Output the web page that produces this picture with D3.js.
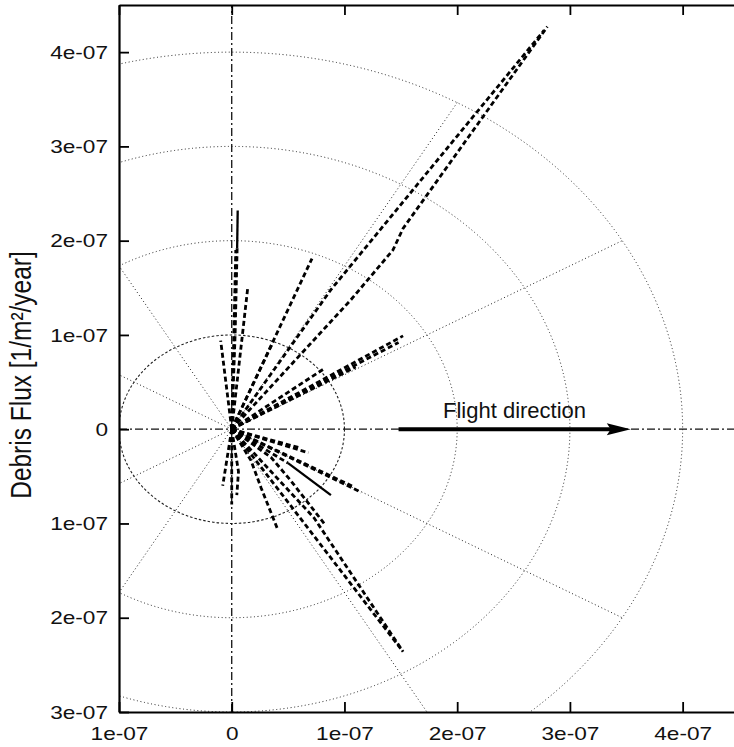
<!DOCTYPE html>
<html>
<head>
<meta charset="utf-8">
<script src="https://cdn.jsdelivr.net/npm/d3@7"></script>
<style>
  html, body { margin: 0; padding: 0; background: #fff; }
  svg { display: block; }
  text { font-family: "Liberation Sans", Arial, Helvetica, sans-serif; fill: #111; }
</style>
</head>
<body>
<div id="chart"></div>
<script>
// ---------------- data (units of 1e-07) ----------------
const UNIT = 1e-7;
const xTicks = [-1, 0, 1, 2, 3, 4];
const yTicks = [-3, -2, -1, 0, 1, 2, 3, 4];
const gridRadii = [1, 2, 3, 4];
const gridAngles = [30, 60, 120, 150, 210, 240, 300, 330];

// flux polylines, upper half (dashed)
const upperRays = [
  [[0, 0], [0.03, 1.0], [0.048, 1.92]],
  [[0, 0], [0.036, 1.90]],
  [[0, 0], [0.142, 1.50]],
  [[0, 0], [-0.098, 0.94]],
  [[0, 0], [0.712, 1.81]],
  [[0, 0], [0.365, 0.92]],
  [[0, 0], [0.83, 0.65]],
  [[0, 0], [1.10, 0.66]],
  [[0, 0], [1.52, 0.99]],
  [[0, 0], [1.48, 0.92]],
  [[0, 0], [0.88, 1.48], [2.77, 4.23]],
  [[0, 0], [1.055, 1.37], [1.43, 1.90], [1.52, 2.13], [2.80, 4.27]]
];
// flux polylines, lower half (dashed)
const lowerRays = [
  [[0, 0], [0.68, -0.25]],
  [[0, 0], [0.61, -0.20]],
  [[0, 0], [1.15, -0.67]],
  [[0, 0], [1.08, -0.61]],
  [[0, 0], [0.50, -0.36]],
  [[0, 0], [0.35, -0.30], [0.52, -0.54], [0.82, -1.00]],
  [[0, 0], [0.17, -0.33], [0.26, -0.62], [0.41, -1.07]],
  [[0, 0], [0.73, -0.94], [1.52, -2.36]],
  [[0, 0], [0.40, -0.62], [1.50, -2.33]],
  [[0, 0], [-0.08, -0.60]],
  [[0, 0], [0.06, -0.45], [0.045, -0.70]],
  [[0, 0], [0.0, -0.80]]
];
// parts of flux lines drawn solid
const solidRays = [
  [[0.048, 1.92], [0.053, 2.32]],
  [[0.50, -0.36], [0.88, -0.70]]
];
const flightArrow = [1.48, 3.54];
const flightLabel = "Flight direction";
const yLabel = "Debris Flux [1/m²/year]";

// ---------------- layout ----------------
const W = 734, H = 747;
const STRETCH = 1.19;
const x = d3.scaleLinear().domain([-1 * UNIT, 4.5 * UNIT]).range([119, 739]);
const y = d3.scaleLinear().domain([-3 * UNIT, 4.5 * UNIT]).range([712, 5]);
const fmt = d => d === 0 ? "0" : Math.round(Math.abs(d / UNIT)) + "e-07";

const svg = d3.select("#chart").append("svg").attr("width", W).attr("height", H);

svg.append("clipPath").attr("id", "plotclip")
  .append("rect").attr("x", 119).attr("y", 5).attr("width", 620).attr("height", 707);

const plot = svg.append("g").attr("clip-path", "url(#plotclip)");

// polar grid circles
plot.selectAll("ellipse.grid").data(gridRadii).join("ellipse")
  .attr("class", "grid")
  .attr("cx", x(0)).attr("cy", y(0))
  .attr("rx", r => x(r * UNIT) - x(0))
  .attr("ry", r => y(0) - y(r * UNIT))
  .attr("fill", "none")
  .attr("stroke", "#222")
  .attr("stroke-width", r => r === 1 ? 1.1 : 1)
  .attr("stroke-dasharray", r => r === 1 ? "2.5,2" : "1,2.6");

// radial grid lines
const rMax = d3.max(gridRadii);
plot.selectAll("line.radial").data(gridAngles).join("line")
  .attr("class", "radial")
  .attr("x1", x(0)).attr("y1", y(0))
  .attr("x2", a => x(rMax * Math.cos(a * Math.PI / 180) * UNIT))
  .attr("y2", a => y(rMax * Math.sin(a * Math.PI / 180) * UNIT))
  .attr("stroke", "#222").attr("stroke-width", 1).attr("stroke-dasharray", "1,2.6");

// zero axes (dash-dot)
plot.append("line")
  .attr("x1", x(-1 * UNIT)).attr("x2", x(4.5 * UNIT)).attr("y1", y(0)).attr("y2", y(0))
  .attr("stroke", "#111").attr("stroke-width", 1.3).attr("stroke-dasharray", "8,3,2,3");
plot.append("line")
  .attr("x1", x(0)).attr("x2", x(0)).attr("y1", y(-3 * UNIT)).attr("y2", y(4.5 * UNIT))
  .attr("stroke", "#111").attr("stroke-width", 1.3).attr("stroke-dasharray", "8,3,2,3");

// flux lines
const line = d3.line().x(p => x(p[0] * UNIT)).y(p => y(p[1] * UNIT));
plot.selectAll("path.flux").data(upperRays.concat(lowerRays)).join("path")
  .attr("class", "flux")
  .attr("d", line)
  .attr("fill", "none").attr("stroke", "#000")
  .attr("stroke-width", 2.8).attr("stroke-dasharray", "5,3");
plot.selectAll("path.fluxsolid").data(solidRays).join("path")
  .attr("class", "fluxsolid")
  .attr("d", line)
  .attr("fill", "none").attr("stroke", "#000").attr("stroke-width", 2.3);

// flight direction arrow
const ax0 = x(flightArrow[0] * UNIT), ax1 = x(flightArrow[1] * UNIT), ay = y(0);
svg.append("line")
  .attr("x1", ax0).attr("x2", ax1 - 18).attr("y1", ay).attr("y2", ay)
  .attr("stroke", "#000").attr("stroke-width", 4);
svg.append("path")
  .attr("d", `M${ax1},${ay} L${ax1 - 24},${ay - 6} L${ax1 - 20},${ay} L${ax1 - 24},${ay + 6} Z`)
  .attr("fill", "#000");
svg.append("text")
  .attr("x", 443).attr("y", 418)
  .attr("font-size", 22)
  .text(flightLabel);

// axes / frame
const yAxis = d3.axisLeft(y).tickValues(yTicks.map(v => v * UNIT)).tickFormat(fmt)
  .tickSizeInner(-10).tickSizeOuter(0).tickPadding(11);
const gy = svg.append("g").attr("transform", "translate(119,0)").call(yAxis);
const xAxis = d3.axisBottom(x).tickValues(xTicks.map(v => v * UNIT)).tickFormat(fmt)
  .tickSizeInner(-10).tickSizeOuter(0).tickPadding(15);
const gx = svg.append("g").attr("transform", "translate(0,712)").call(xAxis);
const xTop = d3.axisTop(x).tickValues(xTicks.map(v => v * UNIT)).tickFormat("")
  .tickSizeInner(-10).tickSizeOuter(0);
const gt = svg.append("g").attr("transform", "translate(0,5)").call(xTop);

[gy, gx, gt].forEach(g => {
  g.select(".domain").attr("stroke", "#000").attr("stroke-width", 2.2);
  g.selectAll(".tick line").attr("stroke", "#000").attr("stroke-width", 1.8);
  g.selectAll(".tick text")
    .attr("font-family", "'Liberation Sans', Arial, Helvetica, sans-serif")
    .attr("font-size", 19).attr("fill", "#111");
});
gy.selectAll(".tick text")
  .attr("x", -11 / STRETCH)
  .attr("transform", `scale(${STRETCH},1)`);
gx.selectAll(".tick text")
  .attr("transform", `scale(${STRETCH},1)`);

// y axis title
svg.append("text")
  .attr("transform", `translate(31,375) scale(${STRETCH},1) rotate(-90)`)
  .attr("text-anchor", "middle")
  .attr("font-size", 24.5)
  .text(yLabel);
</script>
</body>
</html>
